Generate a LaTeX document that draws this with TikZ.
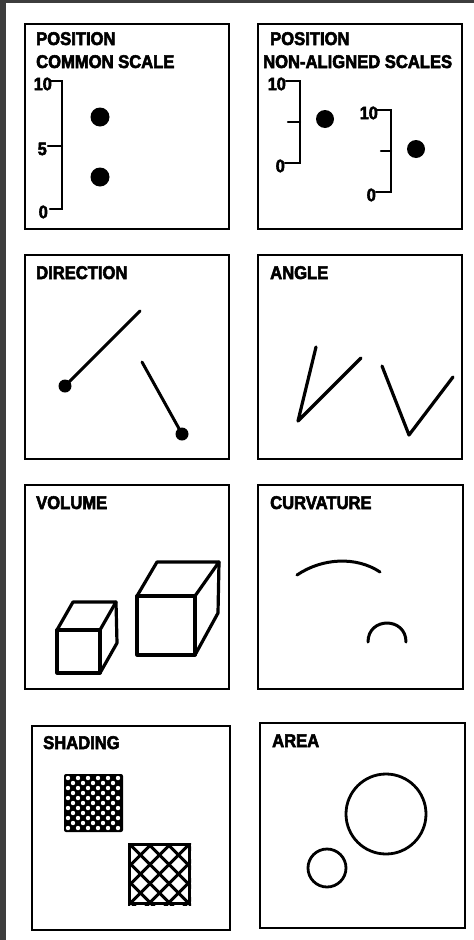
\documentclass[tikz,border=0pt]{standalone}
\usepackage{fontspec}
\setmainfont{Liberation Sans}
\newfontfamily\lblfont[FakeBold=3,FakeStretch=0.9]{Liberation Sans}
\begin{document}
\begin{tikzpicture}[x=1bp,y=-1bp,
  panel/.style={draw=black,line width=2.4bp},
  title/.style={anchor=base west,inner sep=0pt,font=\lblfont\bfseries\fontsize{18.5}{18.5}\selectfont},
  ticklab/.style={anchor=east,inner sep=0pt,font=\lblfont\bfseries\fontsize{18}{18}\selectfont},
  axis/.style={draw=black,line width=2.4bp,line cap=round,line join=miter},
  ink/.style={draw=black,line width=3.2bp,line cap=round,line join=round},
  dotmark/.style={fill=black}
]
\useasboundingbox (0,0) rectangle (474,940);
\fill[white] (0,0) rectangle (474,940);
\fill[black!76] (0,0) rectangle (474,3);
\fill[black!76] (0,0) rectangle (6,940);

% ---------- Panel 1: position common scale
\draw[panel] (25,24) rectangle (229,229);
\node[title] (t1a) at (36,45) {POSITION};
\node[title] (t1b) at (36,68) {COMMON SCALE};
\draw[axis] (50,81) -- (62,81) -- (62,209) -- (50,209);
\draw[axis] (48,146) -- (62,146);
\node[ticklab] (l1a) at (52,84) {10};
\node[ticklab] (l1b) at (47,149) {5};
\node[ticklab] (l1c) at (48,212) {0};
\fill[dotmark] (100,117) circle[radius=9.5bp];
\fill[dotmark] (100,177) circle[radius=9.5bp];

% ---------- Panel 2: position non-aligned scales
\draw[panel] (258,24) rectangle (462,229);
\node[title] (t2a) at (270,45) {POSITION};
\node[title] (t2b) at (263,68) {NON-ALIGNED SCALES};
\draw[axis] (286,81) -- (300,81) -- (300,163) -- (285,163);
\draw[axis] (288,122) -- (300,122);
\node[ticklab] (l2a) at (286,84) {10};
\node[ticklab] (l2b) at (285,166) {0};
\fill[dotmark] (325,119) circle[radius=9bp];
\draw[axis] (377,110) -- (391,110) -- (391,192) -- (376,192);
\draw[axis] (381,151) -- (391,151);
\node[ticklab] (l2c) at (378,113) {10};
\node[ticklab] (l2d) at (376,195) {0};
\fill[dotmark] (416,149) circle[radius=9bp];

% ---------- Panel 3: direction
\draw[panel] (25,255) rectangle (229,459);
\node[title] (t3) at (36,279) {DIRECTION};
\draw[ink,line width=3bp] (65,386) -- (140,311);
\fill[dotmark] (65,386) circle[radius=6.5bp];
\draw[ink,line width=3bp] (142,362) -- (182,434);
\fill[dotmark] (182,434) circle[radius=6.5bp];

% ---------- Panel 4: angle
\draw[panel] (258,255) rectangle (462,459);
\node[title] (t4) at (270,279) {ANGLE};
\draw[ink] (316,347) -- (298,421) -- (361,358);
\draw[ink] (382,366) -- (409,435) -- (453,377);

% ---------- Panel 5: volume
\draw[panel] (25,485) rectangle (229,689);
\node[title] (t5) at (36,509) {VOLUME};
\draw[ink] (57,630) rectangle (100,673);
\draw[ink] (57,630) -- (73,602) -- (116,602) -- (100,630);
\draw[ink] (116,602) -- (117,643) -- (100,673);
\draw[ink] (137,596) rectangle (195,655);
\draw[ink] (137,596) -- (157,562) -- (219,562) -- (195,596);
\draw[ink] (219,562) -- (218,613) -- (195,655);

% ---------- Panel 6: curvature
\draw[panel] (258,485) rectangle (463,689);
\node[title] (t6) at (270,509) {CURVATURE};
\draw[ink,line width=3bp] (297,575) .. controls (322,558) and (356,556) .. (380,572);
\draw[ink,line width=3bp] (368,642) .. controls (368,616.7) and (406,616.7) .. (406,642);

% ---------- Panel 7: shading
\draw[panel] (32,726) rectangle (230,930);
\node[title] (t7) at (43,749) {SHADING};
\fill[black,rounded corners=2bp] (64,774) rectangle (123,832);
\foreach \i in {0,...,5}{\foreach \j in {0,...,5}{
  \fill[white] ({68+10*\i},{778+10*\j}) circle[radius=2.2bp];}}
\foreach \i in {0,...,4}{\foreach \j in {0,...,4}{
  \fill[white] ({73+10*\i},{783+10*\j}) circle[radius=2.2bp];}}
\begin{scope}
  \clip (128,843) rectangle (191,905);
  \foreach \k in {-4,...,4}{
    \draw[black,line width=3bp] ({159.5+19*\k-40},834) -- ({159.5+19*\k+40},914);
    \draw[black,line width=3bp] ({159.5+19*\k-40},914) -- ({159.5+19*\k+40},834);
  }
\end{scope}
\draw[black,line width=3bp] (129.5,844.5) rectangle (189.5,903.5);

% ---------- Panel 8: area
\draw[panel] (260,723) rectangle (465,928);
\node[title] (t8) at (272,747) {AREA};
\draw[ink,line width=2.8bp] (386,814) circle[radius=40bp];
\draw[ink,line width=2.8bp] (327,868) circle[radius=19bp];
\end{tikzpicture}
\end{document}
